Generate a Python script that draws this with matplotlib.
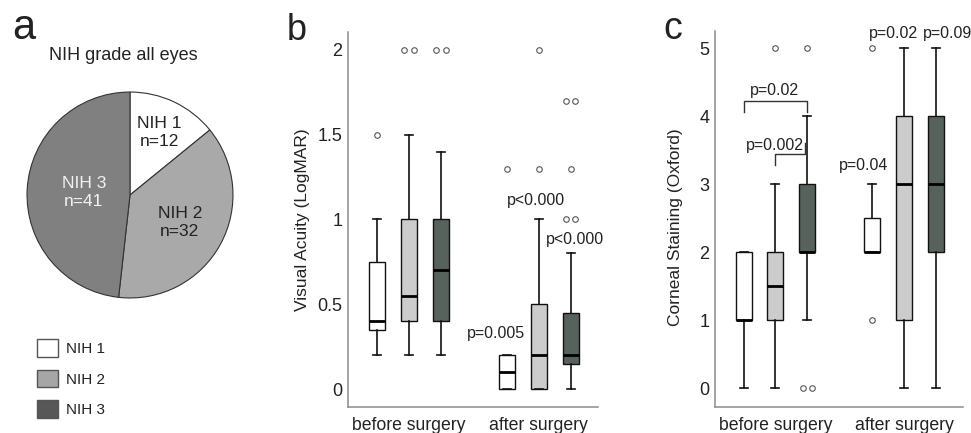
import matplotlib
matplotlib.use("Agg")
import matplotlib.pyplot as plt
from matplotlib.patches import Patch
import numpy as np

plt.rcParams['font.family'] = ['Liberation Sans', 'DejaVu Sans']
TXT = '#222222'

# ---------------- data ----------------
grades = ['NIH 1', 'NIH 2', 'NIH 3']
pie_counts = [12, 32, 41]
pie_colors = ['#ffffff', '#a9a9a9', '#808080']
legend_colors = ['#ffffff', '#a6a6a6', '#575757']
box_colors = ['#ffffff', '#cccccc', '#57625d']
groups = ['before surgery', 'after surgery']

# panel b: visual acuity (LogMAR) -- order: before NIH1..3, after NIH1..3
va_whislo = [0.2, 0.2, 0.2, 0.0, 0.0, 0.0]
va_q1     = [0.35, 0.4, 0.4, 0.0, 0.0, 0.15]
va_med    = [0.4, 0.55, 0.7, 0.1, 0.2, 0.2]
va_q3     = [0.75, 1.0, 1.0, 0.2, 0.5, 0.45]
va_whishi = [1.0, 1.5, 1.4, 0.2, 1.0, 0.8]
va_fliers = [[1.5], [2.0, 2.0], [2.0, 2.0], [1.3], [1.3, 2.0], [1.0, 1.0, 1.3, 1.7, 1.7]]
va_ticks = [0, 0.5, 1, 1.5, 2]
va_ticklabels = ['0', '0.5', '1', '1.5', '2']

# panel c: corneal staining (Oxford)
cs_whislo = [0, 0, 1, 2, 0, 0]
cs_q1     = [1, 1, 2, 2, 1, 2]
cs_med    = [1, 1.5, 2, 2, 3, 3]
cs_q3     = [2, 2, 3, 2.5, 4, 4]
cs_whishi = [2, 3, 4, 3, 5, 5]
cs_fliers = [[], [5], [5, 0, 0], [5, 1], [], []]
cs_ticks = [0, 1, 2, 3, 4, 5]

positions = [1, 2, 3, 5.05, 6.05, 7.05]

# annotations (text, x, y)
va_annot = [('p=0.005', 4.71, 0.33), ('p<0.000', 5.95, 1.115), ('p<0.000', 7.17, 0.88)]
cs_annot = [('p=0.02', 1.97, 4.38), ('p=0.002', 1.98, 3.57), ('p=0.04', 4.78, 3.27),
            ('p=0.02', 5.70, 5.21)]

W, H = 971, 433
fig = plt.figure(figsize=(W / 100, H / 100), dpi=100)

def px_axes(left, top, right, bottom):
    return fig.add_axes([left / W, 1 - bottom / H, (right - left) / W, (bottom - top) / H])

# ---------------- panel a ----------------
fig.text(12 / W, 1 - 39 / H, 'a', fontsize=30, color=TXT, ha='left', va='baseline')
fig.text(123 / W, 1 - 55 / H, 'NIH grade all eyes', fontsize=13, color=TXT,
         ha='center', va='center')
axp = px_axes(26, 91, 234, 299)
wedges, _ = axp.pie(pie_counts, colors=pie_colors, startangle=90, counterclock=False,
                    wedgeprops=dict(edgecolor='#333333', linewidth=0.8))
axp.set_xlim(-1.01, 1.01)
axp.set_ylim(-1.01, 1.01)
axp.set_aspect('equal')
label_dist = [0.67, 0.55, 0.45]
label_col = [TXT, TXT, '#f2f2f2']
for w, g, n, d, c in zip(wedges, grades, pie_counts, label_dist, label_col):
    ang = np.deg2rad((w.theta1 + w.theta2) / 2)
    axp.text(d * np.cos(ang), d * np.sin(ang), f'{g}\nn={n}', ha='center', va='center',
             fontsize=12.5, color=c, linespacing=1.25)

handles = [Patch(facecolor=c, edgecolor='#555555', linewidth=1.0) for c in legend_colors]
fig.legend(handles, grades, loc='upper left', bbox_to_anchor=(37 / W, 1 - 339 / H),
           frameon=False, fontsize=11, handlelength=1.35, handleheight=1.4,
           labelspacing=0.85, handletextpad=0.55, borderpad=0, borderaxespad=0,
           labelcolor=TXT)

# ---------------- box panels ----------------
def make_stats(lo, q1, med, q3, hi):
    return [dict(whislo=a, q1=b, med=c, q3=d, whishi=e, fliers=[])
            for a, b, c, d, e in zip(lo, q1, med, q3, hi)]

def box_panel(ax, stats, fliers, ylim, ticks, ticklabels, ylabel, ylabel_x, ylabel_y):
    bp = ax.bxp(stats, positions=positions, widths=0.5, patch_artist=True, showfliers=False,
                boxprops=dict(edgecolor='#111111', linewidth=1.0),
                medianprops=dict(color='black', linewidth=2.0),
                whiskerprops=dict(color='#111111', linewidth=1.2),
                capprops=dict(color='#111111', linewidth=1.2))
    for i, patch in enumerate(bp['boxes']):
        patch.set_facecolor(box_colors[i % 3])
    for pos, fl in zip(positions, fliers):
        vals, counts = np.unique(fl, return_counts=True)
        for v, n in zip(vals, counts):
            offs = (np.arange(n) - (n - 1) / 2) * 0.29
            ax.plot(pos + offs, [v] * n, 'o', ms=4.0, mfc='white', mec='#555555', mew=0.8,
                    clip_on=False)
    ax.set_xlim(0.1, 7.9)
    ax.set_ylim(*ylim)
    ax.set_yticks(ticks)
    ax.set_yticklabels(ticklabels, fontsize=13, color=TXT)
    ax.set_xticks([np.mean(positions[:3]), np.mean(positions[3:])])
    ax.set_xticklabels(groups, fontsize=12.7, color=TXT)
    ax.tick_params(length=0)
    ax.tick_params(axis='y', pad=4)
    ax.tick_params(axis='x', pad=7)
    for s in ['top', 'right']:
        ax.spines[s].set_visible(False)
    for s in ['left', 'bottom']:
        ax.spines[s].set_color('#8c8c8c')
        ax.spines[s].set_linewidth(1.1)
    ax.set_ylabel(ylabel, fontsize=12.5, color=TXT)
    ax.yaxis.set_label_coords(ylabel_x, ylabel_y)
    ax.yaxis.label.set_verticalalignment('center')

axb = px_axes(348, 32, 598, 407)
box_panel(axb, make_stats(va_whislo, va_q1, va_med, va_q3, va_whishi), va_fliers,
          (-0.106, 2.106), va_ticks, va_ticklabels, 'Visual Acuity (LogMAR)', -0.184, 0.499)
for t, x, y in va_annot:
    axb.text(x, y, t, ha='center', va='center', fontsize=11.5, color=TXT)
fig.text(287 / W, 1 - 40 / H, 'b', fontsize=26, color=TXT, ha='left', va='baseline')

axc = px_axes(715, 31, 963, 407)
box_panel(axc, make_stats(cs_whislo, cs_q1, cs_med, cs_q3, cs_whishi), cs_fliers,
          (-0.274, 5.254), cs_ticks, [str(t) for t in cs_ticks],
          'Corneal Staining (Oxford)', -0.161, 0.477)
for t, x, y in cs_annot:
    axc.text(x, y, t, ha='center', va='center', fontsize=11.5, color=TXT)
axc.text(6.63, 5.21, 'p=0.09', ha='left', va='center', fontsize=11.5, color=TXT)
# significance brackets
axc.plot([positions[0], positions[0], positions[2], positions[2]], [4.06, 4.23, 4.23, 4.06],
         color='#333333', lw=1.0)
axc.plot([positions[1], positions[1], 2.94, 2.94], [3.28, 3.45, 3.45, 3.61],
         color='#333333', lw=1.0)
fig.text(663 / W, 1 - 39 / H, 'c', fontsize=27, color=TXT, ha='left', va='baseline')

fig.savefig('out.png', dpi=100)
